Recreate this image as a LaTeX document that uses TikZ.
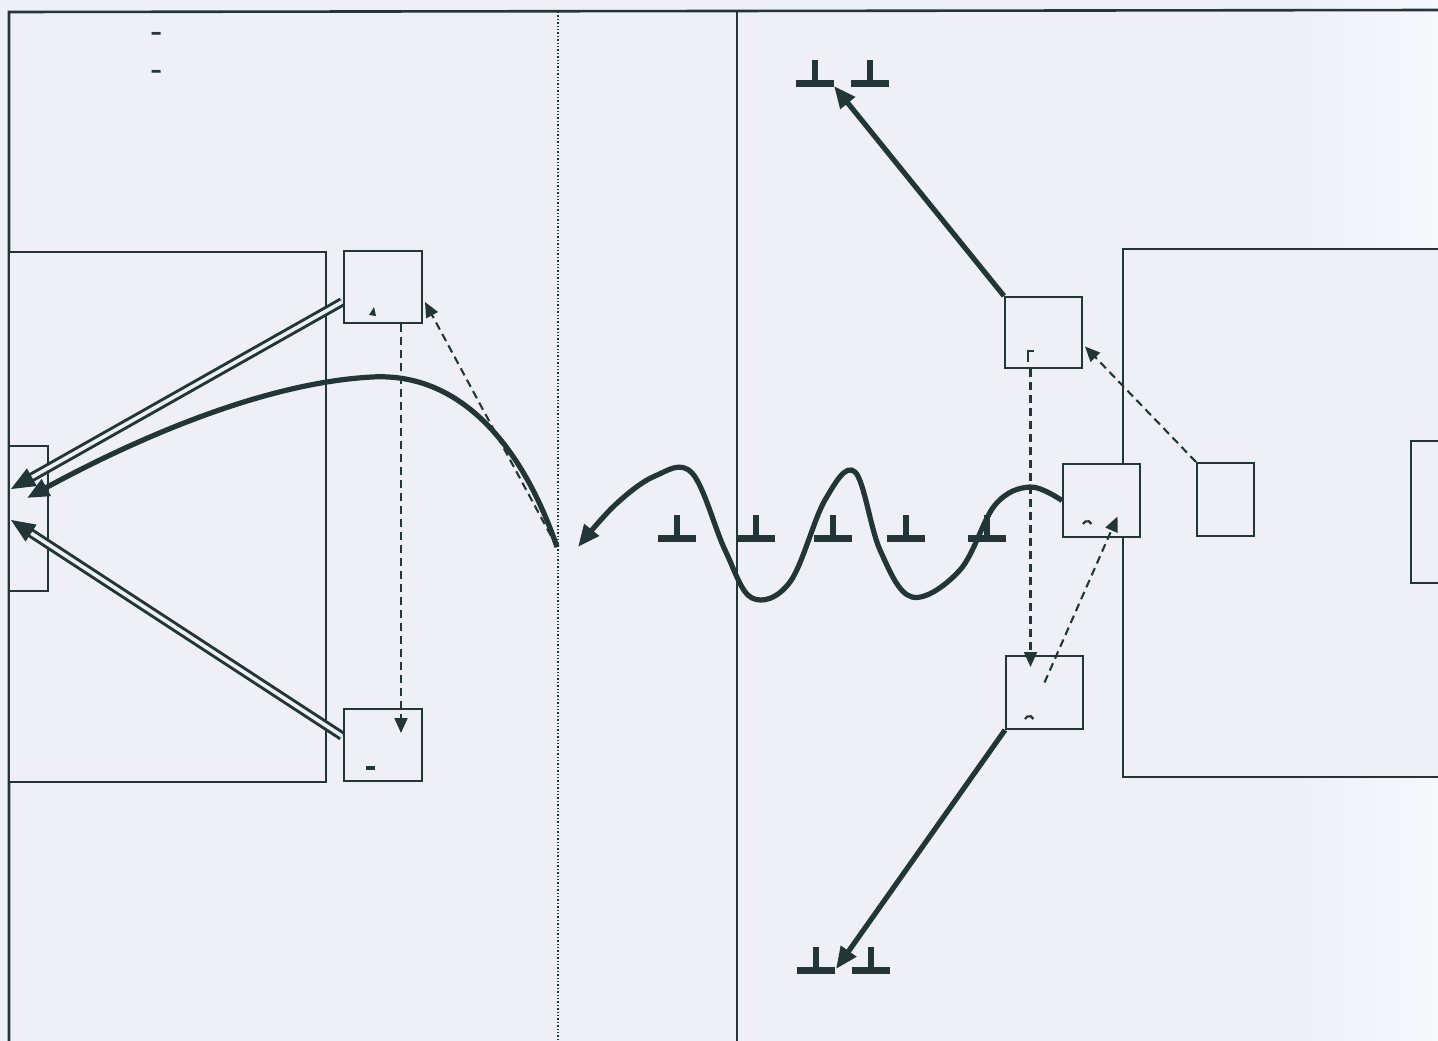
\documentclass[tikz,border=0pt]{standalone}
\usetikzlibrary{arrows.meta,calc}
\definecolor{ink}{HTML}{223638}
\definecolor{bg}{HTML}{EEF0F6}
\definecolor{bgr}{HTML}{F7F8FC}
\tikzset{
  boxn/.style={draw=ink,line width=2pt,fill=bg,rectangle,inner sep=0pt},
  frameline/.style={draw=ink,line width=2.6pt},
  dbl/.style={draw=ink,double=bg,double distance=3.6pt,line width=3pt},
  headonly/.style={draw=ink,line width=1pt,-{Triangle[length=24pt,width=20pt]}},
  thickarr/.style={draw=ink,line width=5.2pt,-{Triangle[length=22pt,width=18pt]}},
  dasharr/.style={draw=ink,line width=2.1pt,dash pattern=on 8pt off 5pt,-{Triangle[length=15pt,width=13pt]}},
  markn/.style={font=\fontsize{30}{30}\selectfont\bfseries,text=ink,inner sep=0pt},
}
\newcommand{\gnd}[3]{% name, x, y(bar top)
  \fill[ink] (#2-19,#3) rectangle (#2+19,#3+7);
  \fill[ink] (#2-2.8,#3-20) rectangle (#2+2.8,#3);
  \coordinate (#1) at (#2,#3);
}
\begin{document}
\begin{tikzpicture}[x=1pt,y=-1pt]
\useasboundingbox (0,0) rectangle (1438,1041);
\clip (0,0) rectangle (1438,1041);
\fill[bg] (0,0) rectangle (1300,1041);
\shade[left color=bg,right color=bgr] (1300,0) rectangle (1438,1041);

% frame and page lines
\draw[frameline] (9,1041) -- (9,12) -- (1438,10);
\draw[draw=ink,line width=1.4pt,dotted] (558,12) -- (558,1041);
\draw[draw=ink,line width=1.4pt] (737,12) -- (737,1041);

% dashes top left
\node[markn] (m1) at (157,36) {-};
\node[markn] (m2) at (157,74) {-};

% large rectangles
\node[boxn,minimum width=317pt,minimum height=530pt] (bigL) at (167.5,517) {};
\node[boxn,minimum width=39pt,minimum height=145pt] (tall) at (28.5,518.5) {};
\node[boxn,minimum width=340pt,minimum height=528pt,anchor=north west] (bigR) at (1122,248) {};
\node[boxn,minimum width=60pt,minimum height=142pt,anchor=north west] (farR) at (1410,440) {};

% small boxes
\node[boxn,minimum width=78pt,minimum height=72pt] (A) at (383,287) {};
\node[boxn,minimum width=78pt,minimum height=72pt] (B) at (383,745) {};
\node[boxn,minimum width=77pt,minimum height=73pt] (C) at (1101.5,500.5) {};
\node[boxn,minimum width=77pt,minimum height=71pt] (D) at (1043.5,332.5) {};
\node[boxn,minimum width=77pt,minimum height=73pt] (E) at (1044.5,692.5) {};
\node[boxn,minimum width=57pt,minimum height=73pt] (F) at (1225.5,499.5) {};

% tiny marks inside boxes
\fill[ink] (369,315) -- (374,307) -- (376,316) -- cycle;
\fill[ink] (366,766) rectangle (375,770);
\draw[ink,line width=2.2pt] (1083,524) arc (160:20:4.5pt);
\draw[ink,line width=2.2pt] (1025,719) arc (160:20:4.5pt);
\draw[ink,line width=2pt] (1028,362) -- (1028,351) -- (1034,351);

% ground symbols
\gnd{g1}{815}{80}
\gnd{g2}{870}{80}
\gnd{g3}{816}{967}
\gnd{g4}{871}{967}
\gnd{w1}{677}{535}
\gnd{w2}{756}{535}
\gnd{w3}{833}{535}
\gnd{w4}{906}{535}
\gnd{w5}{987}{535}

% named endpoints
\coordinate (p) at (557,547);
\coordinate (t1) at (11,489);
\coordinate (t2) at (27,498);
\coordinate (t3) at (11,520);
\coordinate (sA) at ($(A.west)+(-1,15)$);
\coordinate (sB) at ($(B.west)+(-1,-9)$);
\coordinate (aA) at ($(A.east)+(2,15)$);
\coordinate (ws) at (578,547);
\coordinate (gt) at (834,86);
\coordinate (gb) at (836,969);

% double arrows into tall box
\draw[dbl,shorten >=20pt] (sA) -- (t1);
\draw[headonly] ($(t1)!24pt!(sA)$) -- (t1);
\draw[dbl,shorten >=20pt] (sB) -- (t3);
\draw[headonly] ($(t3)!24pt!(sB)$) -- (t3);

% thick curve from dotted line
\draw[thickarr] (p) .. controls (522,445) and (460,372) .. (372,377)
   .. controls (260,383) and (130,442) .. (t2);

% dashed arrows
\draw[dasharr] (p) -- (aA);
\draw[dasharr] ($(A.south)+(18,0)$) -- ($(B.north)+(18,25)$);
\draw[dasharr] ($(D.south)+(-13,0)$) -- ($(E.north)+(-14,12)$);
\draw[dasharr] ($(E.center)+(0,-10)$) -- ($(C.center)+(16,16)$);
\draw[dasharr] (F.north west) -- ($(D.east)+(2,14)$);

% wave
\draw[thickarr] plot[smooth,tension=0.6] coordinates {
 (C.west) (1030,487) (995,505) (960,570) (912,597) (880,550) (855,472)
 (825,500) (790,582) (752,598) (725,550) (692,473) (655,476) (615,505) (ws)};

% arrows to grounds
\draw[thickarr] (D.north west) -- (gt);
\draw[thickarr] (E.south west) -- (gb);
\end{tikzpicture}
\end{document}
